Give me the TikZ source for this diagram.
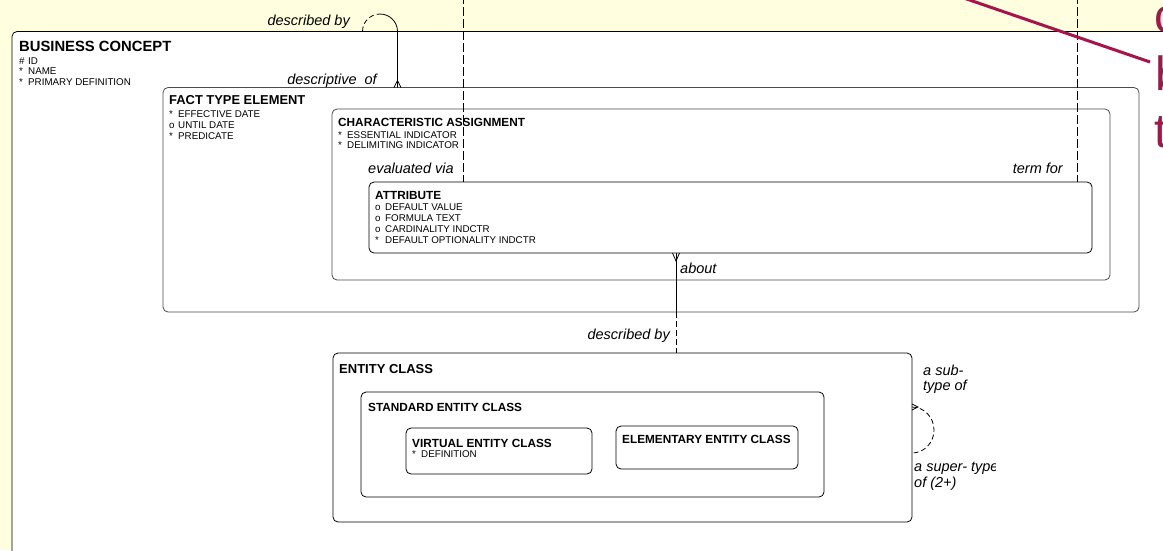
\documentclass[tikz,border=0pt]{standalone}
\usepackage{fontspec}
\setmainfont{Liberation Sans}
\definecolor{bgy}{RGB}{255,255,224}
\definecolor{inkred}{RGB}{165,20,75}
\begin{document}
\begin{tikzpicture}[x=1pt,y=-1pt,
  box/.style={draw=black, line width=0.8pt, rounded corners=5pt, fill=white, anchor=north west, inner sep=0pt, outer sep=0pt},
  gbox/.style={box, draw=black!70},
  ttl/.style={anchor=base west, inner sep=0pt, font=\bfseries\fontsize{11.8}{14}\selectfont},
  att/.style={anchor=base west, inner sep=0pt, font=\fontsize{9.8}{11}\selectfont},
  lbl/.style={anchor=base west, inner sep=0pt, font=\itshape\fontsize{14.5}{16}\selectfont},
  lble/.style={lbl, anchor=base east},
  rel/.style={line width=0.8pt},
  opt/.style={rel, dash pattern=on 9pt off 3pt},
  optb/.style={rel, dash pattern=on 6pt off 3pt},
  mk/.style={text=inkred, anchor=base west, inner sep=0pt, font=\fontsize{48}{50}\selectfont}
]
\useasboundingbox (0,0) rectangle (1163,550);
\clip (0,0) rectangle (1163,550);
\fill[bgy] (0,0) rectangle (1163,550);

% boxes
\node[box, minimum width=1200pt, minimum height=540pt] (bc) at (12,31.5) {};
\node[gbox, minimum width=976pt, minimum height=224.5pt] (fte) at (163,87.5) {};
\node[gbox, minimum width=778pt, minimum height=171pt] (ca) at (332,109) {};
\node[box, minimum width=723pt, minimum height=71pt] (attr) at (369,182) {};
\node[box, minimum width=579pt, minimum height=169pt] (ec) at (333,353) {};
\node[box, minimum width=463pt, minimum height=105pt] (sec) at (361,392) {};
\node[box, minimum width=186pt, minimum height=46pt] (vec) at (406,428) {};
\node[box, minimum width=182pt, minimum height=43pt] (eec) at (616,426) {};

% BUSINESS CONCEPT
\node[ttl, font=\bfseries\fontsize{14.8}{16}\selectfont] (bcT) at (19,51) {BUSINESS CONCEPT};
\node[att] (bc1) at (19,64) {\makebox[9pt][l]{\#}ID};
\node[att] (bc2) at (19,74.5) {\makebox[9pt][l]{*}NAME};
\node[att] (bc3) at (19,85) {\makebox[9pt][l]{*}PRIMARY DEFINITION};

% FACT TYPE ELEMENT
\node[ttl, font=\bfseries\fontsize{12.9}{15}\selectfont] (fteT) at (169,104) {FACT TYPE ELEMENT};
\node[att] (fte1) at (169,117) {\makebox[9pt][l]{*}EFFECTIVE DATE};
\node[att] (fte2) at (169,128) {\makebox[9pt][l]{o}UNTIL DATE};
\node[att] (fte3) at (169,139.5) {\makebox[9pt][l]{*}PREDICATE};

% CHARACTERISTIC ASSIGNMENT
\node[ttl] (caT) at (338,126) {CHARACTERISTIC ASSIGNMENT};
\node[att] (ca1) at (338,138) {\makebox[9pt][l]{*}ESSENTIAL INDICATOR};
\node[att] (ca2) at (338,148.5) {\makebox[9pt][l]{*}DELIMITING INDICATOR};

% ATTRIBUTE
\node[ttl] (atT) at (375,199) {ATTRIBUTE};
\node[att] (at1) at (375,210) {\makebox[10pt][l]{o}DEFAULT VALUE};
\node[att] (at2) at (375,221) {\makebox[10pt][l]{o}FORMULA TEXT};
\node[att] (at3) at (375,232) {\makebox[10pt][l]{o}CARDINALITY INDCTR};
\node[att] (at4) at (375,243.5) {\makebox[10pt][l]{*}DEFAULT OPTIONALITY INDCTR};

% ENTITY CLASS family
\node[ttl, font=\bfseries\fontsize{13}{15}\selectfont] (ecT) at (339,373) {ENTITY CLASS};
\node[ttl] (secT) at (368,411) {STANDARD ENTITY CLASS};
\node[ttl] (vecT) at (412,447) {VIRTUAL ENTITY CLASS};
\node[att] (vec1) at (412,457.5) {\makebox[9pt][l]{*}DEFINITION};
\node[ttl] (eecT) at (622,443) {ELEMENTARY ENTITY CLASS};

% relationship: described by / descriptive of
\coordinate (xL) at (362.5,0);
\coordinate (xR) at (397.5,0);
\path (xL |- bc.north) coordinate (dbL);
\draw[rel, dash pattern=on 5pt off 3pt] (dbL) arc[start angle=180, end angle=270, radius=17.5];
\draw[rel] (dbL) ++(17.5,-17.5) arc[start angle=270, end angle=360, radius=17.5] -- (xR |- fte.north);
\path (xR |- fte.north) coordinate (dbF);
\draw[rel] (dbF) ++(-3.5,0) -- ++(3.5,-7) -- ++(3.5,7);
\node[lble] (l1) at (350,25.5) {described by};
\node[lble] (l2) at (377,84.5) {descriptive\ \ of};

% evaluated via / term for
\coordinate (evTop) at (463,-5);
\coordinate (tfTop) at (1077,-5);
\draw[opt] (evTop) -- (evTop |- attr.north);
\draw[opt] (tfTop) -- (tfTop |- attr.north);
\node[lbl] (l3) at (368,173.5) {evaluated via};
\node[lble] (l4) at (1063,173) {term for};

% about / described by
\coordinate (abM) at (676,312);
\path (abM |- attr.south) coordinate (abS);
\draw[rel] (abS) -- (abM);
\draw[optb] (abM) -- (abM |- ec.north);
\draw[rel] (abS) ++(-3.5,0) -- ++(3.5,8) -- ++(3.5,-8);
\node[lbl] (l5) at (680,273.5) {about};
\node[lble] (l6) at (670,339.5) {described by};

% subtype recursion on ENTITY CLASS
\coordinate (stY) at (0,407);
\path (ec.east |- stY) coordinate (stA);
\draw[rel, dash pattern=on 5pt off 3pt] (stA) arc[start angle=270, end angle=450, x radius=22, y radius=23];
\draw[rel] (stA) ++(0,-3) -- ++(6,3) -- ++(-6,3);
\node[lbl] (l7) at (923,375) {a sub-};
\node[lbl] (l8) at (923,390) {type of};
\begin{scope}
\clip (910,455) rectangle (995,495);
\node[lbl] (l9) at (914,471) {a super- type};
\end{scope}
\node[lbl] (l10) at (914,487) {of (2+)};

% red annotation
\coordinate (rA) at (955,-5);
\coordinate (rB) at (1150,62);
\draw[inkred, line width=3pt] (rA) -- (rB);
\node[mk] (m1) at (1154,32) {c};
\node[mk] (m2) at (1155,90) {b};
\node[mk] (m3) at (1154,147) {t};
\end{tikzpicture}
\end{document}
